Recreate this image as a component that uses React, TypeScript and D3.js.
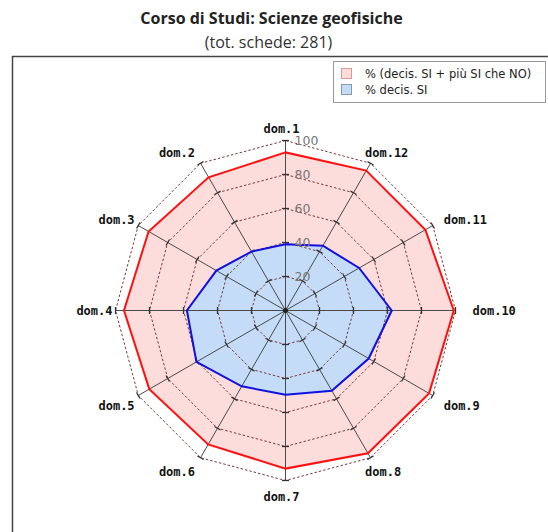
import React from "react";
import * as d3 from "d3";

const categories = ["dom.1","dom.2","dom.3","dom.4","dom.5","dom.6","dom.7","dom.8","dom.9","dom.10","dom.11","dom.12"];
const outerValues = [93, 90.5, 93, 95, 92.5, 91, 93, 97, 97.5, 99, 95, 95];
const innerValues = [39, 40, 47, 58, 60.5, 51.5, 49.5, 54.5, 56.5, 62.5, 50, 44];
const gridLevels = [20, 40, 60, 80, 100];
const seriesNames = ["% (decis. SI + più SI che NO)", "% decis. SI"];
const title = "Corso di Studi: Scienze geofisiche";
const subtitle = "(tot. schede: 281)";

const W = 548, H = 532;
const cx = 285.5, cy = 310.5, R = 170;

export default function App() {
  const n = categories.length;
  const r = d3.scaleLinear().domain([0, 100]).range([0, R]);
  const ang = (i: number) => -i * 2 * Math.PI / n;
  const pt = (i: number, v: number): [number, number] => [cx + r(v) * Math.sin(ang(i)), cy - r(v) * Math.cos(ang(i))];

  const radial = d3.lineRadial<number>()
    .angle((_, i) => ang(i))
    .radius((v) => r(v))
    .curve(d3.curveLinearClosed);

  const ringPath = (lvl: number) => radial(categories.map(() => lvl)) as string;

  return (
    <svg width={W} height={H} style={{ position: "absolute", left: 0, top: 0, background: "#fff" }}>
      <text x={271.5} y={24} textAnchor="middle" fontFamily="'Open Sans', sans-serif" fontWeight="bold" fontSize={16} fill="#222">{title}</text>
      <text x={268.5} y={48} textAnchor="middle" fontFamily="'Open Sans', sans-serif" fontSize={16} fill="#333">{subtitle}</text>
      <rect x={12.5} y={56.5} width={560} height={500} fill="#fff" stroke="#444" strokeWidth={1.5} />

      <g transform={`translate(${cx},${cy})`}>
        <path d={radial(outerValues) as string} fill="#fddcdc" stroke="none" />
        <path d={radial(innerValues) as string} fill="#c4dcf7" stroke="none" />
        {gridLevels.map((lvl) => (
          <path key={lvl} d={ringPath(lvl)} fill="none" stroke="#7a3a3a" strokeWidth={1} strokeDasharray="2.5,2" />
        ))}
      </g>
      {categories.map((c, i) => {
        const [x2, y2] = pt(i, 100);
        return <line key={c} x1={cx} y1={cy} x2={x2} y2={y2} stroke="#4a4a4a" strokeWidth={1} />;
      })}
      {categories.map((c, i) =>
        gridLevels.map((lvl) => {
          const [x, y] = pt(i, lvl);
          const a = ang(i);
          const px = Math.cos(a) * 3.5, py = Math.sin(a) * 3.5;
          return <line key={c + lvl} x1={x - px} y1={y - py} x2={x + px} y2={y + py} stroke="#333" strokeWidth={1.3} />;
        })
      )}
      <g transform={`translate(${cx},${cy})`}>
        <path d={radial(outerValues) as string} fill="none" stroke="#ff1010" strokeWidth={2} />
        <path d={radial(innerValues) as string} fill="none" stroke="#1010e0" strokeWidth={2} />
      </g>
      <circle cx={cx} cy={cy} r={2.5} fill="#222" />
      {gridLevels.map((lvl) => (
        <text key={lvl} x={cx + 9} y={cy - r(lvl) + 4} fontFamily="'DejaVu Sans', sans-serif" fontSize={12.5} fill="#777">{lvl}</text>
      ))}
      {categories.map((c, i) => {
        const sx = Math.sin(ang(i));
        const co = Math.cos(ang(i));
        let x: number, anchor: string;
        if (Math.abs(sx) < 0.01) { x = cx - 4; anchor = "middle"; }
        else if (sx > 0) { x = cx + 215 * sx - 28; anchor = "start"; }
        else { x = cx + 165 * sx - 8; anchor = "end"; }
        const y = cy - 182 * co + 4 + (co < -0.01 ? 4 : 0);
        return (
          <text key={c} x={x} y={y} textAnchor={anchor} fontFamily="'DejaVu Sans Mono', monospace" fontWeight="bold" fontSize={12} fill="#111">{c}</text>
        );
      })}

      <rect x={333.5} y={61.5} width={212} height={41} fill="#fff" stroke="#999" strokeWidth={1} />
      <rect x={341.5} y={68.5} width={10} height={10} fill="#fddcdc" stroke="#d99" strokeWidth={1} />
      <rect x={341.5} y={84.5} width={10} height={10} fill="#c4dcf7" stroke="#89a" strokeWidth={1} />
      <text x={365} y={78} fontFamily="'DejaVu Sans', sans-serif" fontSize={11.5} fill="#222">{seriesNames[0]}</text>
      <text x={365} y={94} fontFamily="'DejaVu Sans', sans-serif" fontSize={11.5} fill="#222">{seriesNames[1]}</text>
    </svg>
  );
}
